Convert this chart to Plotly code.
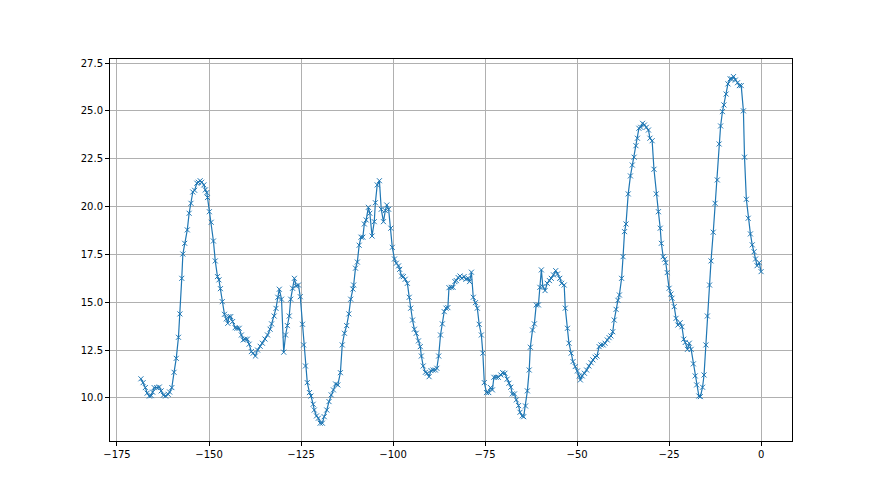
import plotly.graph_objects as go

# values, in segments from left to right
x_seg1 = [-168.5, -167.9, -167.3, -166.8, -166.2, -165.7, -165.3, -164.9, -164.2, -163.5,
          -163.0, -162.4, -161.8, -161.1, -160.7, -160.1, -159.5, -158.9, -158.3, -157.9,
          -157.4, -157.1, -156.6, -155.9, -155.4, -154.9, -154.4, -153.9, -153.3, -152.9,
          -152.4, -152.0, -151.4, -151.0, -150.6, -150.4, -149.9, -149.4, -148.8, -148.3,
          -147.7, -147.3, -146.9, -146.4, -145.8, -145.3, -144.9, -144.6, -144.1, -143.6,
          -142.9, -142.4, -141.8, -141.2, -140.7, -140.2, -139.6, -139.1, -138.5, -138.0,
          -137.4]
y_seg1 = [11.0, 10.8, 10.54, 10.25, 10.1, 10.12, 10.3, 10.54, 10.54, 10.57,
          10.37, 10.14, 10.1, 10.19, 10.31, 10.54, 11.34, 12.07, 13.17, 14.39,
          16.25, 17.52, 18.08, 18.78, 19.65, 20.17, 20.76, 20.85, 21.22, 21.27,
          21.35, 21.27, 21.13, 20.87, 20.73, 20.47, 19.73, 19.18, 18.2, 17.16,
          16.34, 16.17, 15.71, 15.03, 14.37, 14.13, 13.9, 14.25, 14.25, 13.99,
          13.67, 13.64, 13.64, 13.29, 13.03, 13.07, 13.07, 12.81, 12.42, 12.34,
          12.19]

x_seg2 = [-136.8, -136.1, -135.5, -134.8, -134.1, -133.4, -133.0, -132.3, -131.8, -131.3,
          -130.9, -130.3, -129.7, -129.2, -128.7, -128.2, -127.8, -127.3, -126.8, -126.3,
          -125.7, -125.2, -124.6, -124.3, -123.8, -123.3, -122.7, -122.3, -121.7, -121.4,
          -120.8, -120.3, -119.8, -119.2, -118.7, -118.0, -117.4, -116.8, -116.2, -115.6,
          -115.0, -114.3, -113.8, -113.2, -112.6, -112.0, -111.5, -110.9, -110.7, -110.2,
          -109.7, -109.2, -108.7, -108.2, -107.8, -107.3, -106.7, -106.3, -105.7]
y_seg2 = [12.5, 12.7, 12.86, 13.08, 13.29, 13.59, 13.87, 14.28, 14.68, 15.26,
          15.68, 15.16, 12.39, 13.29, 13.78, 14.28, 15.16, 15.73, 16.25, 15.85,
          15.9, 15.29, 13.85, 12.77, 11.67, 10.8, 10.28, 10.1, 9.67, 9.37,
          9.06, 8.94, 8.68, 8.68, 9.02, 9.37, 9.81, 10.16, 10.42, 10.73,
          10.68, 11.32, 12.77, 13.38, 13.78, 14.39, 15.16, 15.69, 15.9, 16.78,
          17.1, 17.98, 18.4, 18.4, 19.09, 19.3, 19.96, 19.65, 18.46]

x_seg3 = [-105.1, -104.8, -104.3, -103.7, -103.2, -102.6, -102.1, -101.7, -101.2, -100.6,
          -100.2, -99.6, -99.1, -98.5, -98.2, -97.7, -97.2, -96.7, -96.1, -95.6,
          -95.2, -94.7, -94.2, -93.7, -93.1, -92.6, -92.3, -91.8, -91.2, -90.7,
          -90.2, -89.7, -89.1, -88.5, -88.1, -87.6, -87.1, -86.6, -86.1, -85.6,
          -85.1, -84.8, -84.2, -83.7, -83.2, -82.8, -82.3, -81.8, -81.3, -80.7,
          -80.2, -79.6, -79.2, -78.7, -78.2, -77.6, -77.1, -76.6, -76.0, -75.6,
          -75.2, -74.6, -74.0, -73.5, -73.0]
y_seg3 = [19.21, 20.2, 21.13, 21.35, 19.86, 19.21, 19.79, 20.08, 19.86, 18.87,
          17.87, 17.26, 17.04, 16.9, 16.72, 16.37, 16.34, 16.2, 15.99, 15.26,
          14.69, 14.07, 13.59, 13.38, 12.98, 12.68, 12.19, 11.67, 11.34, 11.29,
          11.11, 11.43, 11.46, 11.46, 11.55, 12.19, 13.29, 13.87, 14.51, 14.69,
          14.72, 15.76, 15.78, 15.78, 16.08, 16.13, 16.29, 16.37, 16.25, 16.34,
          16.2, 16.25, 16.08, 16.57, 15.26, 14.98, 14.69, 13.85, 13.29, 12.34,
          10.8, 10.28, 10.28, 10.54, 10.42]

x_seg4 = [-72.6, -72.0, -71.4, -70.7, -70.2, -69.6, -69.0, -68.5, -68.0, -67.6,
          -67.0, -66.5, -65.9, -65.5, -64.9, -64.5, -64.0, -63.5, -63.0, -62.7,
          -62.1, -61.6, -61.1, -60.5, -60.1, -59.7, -59.3, -58.7, -58.1, -57.5,
          -57.0, -56.4, -55.8, -55.3, -54.7, -54.2, -53.5, -53.2, -52.6, -52.2,
          -51.6, -51.1, -50.5, -49.9, -49.4, -49.1, -48.6, -48.0, -47.4, -46.8,
          -46.2, -45.7, -45.1, -44.6, -44.0, -43.5, -42.9, -42.4, -41.8, -41.3,
          -40.8]
y_seg4 = [11.08, 11.08, 11.08, 11.2, 11.32, 11.29, 10.98, 10.77, 10.56, 10.21,
          10.21, 9.9, 9.6, 9.25, 9.06, 9.02, 9.58, 10.37, 11.46, 12.65,
          13.55, 13.87, 14.86, 14.86, 15.78, 16.69, 15.82, 15.61, 15.99, 16.13,
          16.25, 16.43, 16.65, 16.48, 16.25, 15.99, 15.9, 14.69, 13.64, 12.86,
          12.34, 11.9, 11.64, 11.41, 11.15, 10.94, 11.15, 11.29, 11.46, 11.67,
          11.84, 11.99, 12.13, 12.19, 12.68, 12.77, 12.77, 12.86, 13.03, 13.15,
          13.24]

x_seg5 = [-40.3, -39.9, -39.4, -38.9, -38.5, -37.9, -37.5, -37.1, -36.7, -36.1,
          -35.5, -35.0, -34.5, -34.0, -33.6, -33.2, -32.7, -32.2, -31.7, -31.2,
          -30.6, -30.2, -29.6, -29.1, -28.5, -27.9, -27.4, -27.1, -26.6, -26.2,
          -25.9, -25.5, -25.0, -24.5, -24.2, -23.6, -23.1, -22.6, -22.0, -21.5,
          -21.0, -20.6, -20.0, -19.5, -19.0, -18.4, -17.9, -17.5, -16.9, -16.5,
          -15.9, -15.5, -15.0, -14.6, -14.0, -13.6, -13.0, -12.5, -11.9, -11.4,
          -11.0, -10.5, -10.1, -9.5, -9.0, -8.4, -8.0, -7.5, -7.0, -6.4,
          -5.9, -5.4, -4.8, -4.5, -4.0, -3.5, -2.9, -2.4, -1.9, -1.5,
          -1.1, -0.5, 0.0]
y_seg5 = [13.46, 14.07, 14.63, 15.1, 15.38, 16.25, 17.38, 18.69, 19.09, 20.66,
          21.6, 22.17, 22.58, 23.18, 23.57, 24.09, 24.14, 24.35, 24.26, 24.14,
          24.0, 23.57, 23.44, 21.95, 20.66, 19.73, 18.87, 18.08, 17.38, 17.25,
          17.07, 16.55, 15.73, 15.43, 15.21, 14.77, 14.16, 13.81, 13.93, 13.72,
          13.07, 12.9, 12.54, 12.86, 12.54, 11.78, 11.15, 10.68, 10.1, 10.07,
          10.56, 11.2, 12.77, 14.28, 15.9, 17.16, 18.66, 20.17, 21.39, 23.27,
          24.21, 24.96, 25.31, 25.88, 26.41, 26.67, 26.67, 26.79, 26.61, 26.47,
          26.32, 26.32, 25.0, 22.58, 20.38, 19.39, 18.57, 18.0, 17.64, 17.26,
          16.91, 17.07, 16.6]

x_ticks = [-175, -150, -125, -100, -75, -50, -25, 0]
y_ticks = [10.0, 12.5, 15.0, 17.5, 20.0, 22.5, 25.0, 27.5]

x_values = x_seg1 + x_seg2 + x_seg3 + x_seg4 + x_seg5
y_values = y_seg1 + y_seg2 + y_seg3 + y_seg4 + y_seg5

color = '#1f77b4'

trace = go.Scatter(
    x=x_values,
    y=y_values,
    mode='lines+markers',
    line=dict(color=color, width=1.2),
    marker=dict(symbol='x-thin', size=5, line=dict(color=color, width=1)),
    hoverinfo='x+y',
)

axis_style = dict(
    showline=True,
    linecolor='black',
    linewidth=1,
    mirror=True,
    ticks='outside',
    ticklen=4,
    tickwidth=1,
    tickcolor='black',
    showgrid=True,
    gridcolor='#b0b0b0',
    gridwidth=0.8,
    zeroline=False,
    tickfont=dict(family='DejaVu Sans', size=10, color='black'),
)

fig = go.Figure([trace])
# the page body adds 8px on the left and top, so margins are trimmed to match
fig.update_layout(
    width=880,
    height=495,
    margin=dict(l=102, r=96, t=51, b=62),
    paper_bgcolor='white',
    plot_bgcolor='white',
    showlegend=False,
    xaxis=dict(range=[-176.9, 8.4], tickvals=x_ticks, **axis_style),
    yaxis=dict(range=[7.75, 27.71], tickvals=y_ticks, tickformat='.1f', **axis_style),
)

fig.write_html("out.html")
